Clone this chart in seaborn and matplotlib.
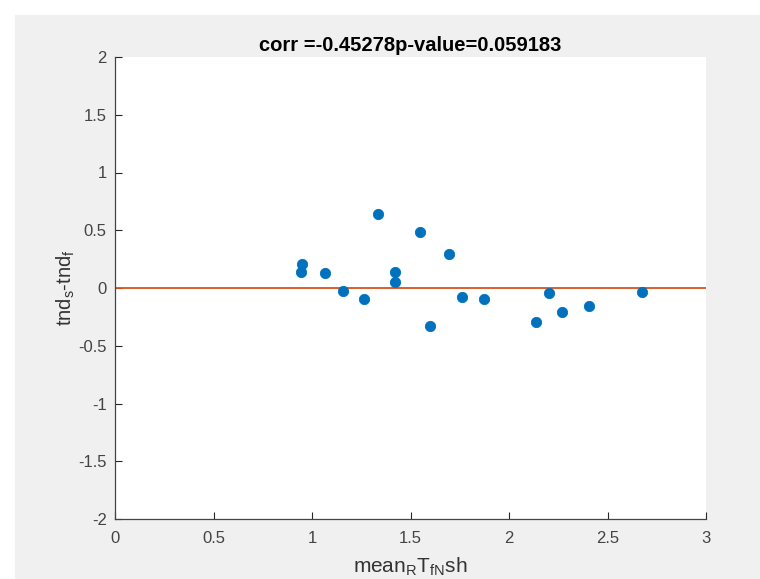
import matplotlib
matplotlib.use("Agg")
import matplotlib.pyplot as plt
import numpy as np
import pandas as pd
import seaborn as sns

# values
mean_rt = [0.944, 0.949, 1.066, 1.157, 1.264, 1.335, 1.421, 1.421, 1.548,
           1.599, 1.695, 1.761, 1.873, 2.137, 2.203, 2.269, 2.406, 2.675]
tnd_diff = [0.142, 0.208, 0.128, -0.024, -0.095, 0.640, 0.142, 0.056, 0.486,
            -0.329, 0.296, -0.075, -0.095, -0.296, -0.047, -0.212, -0.152, -0.032]
ref_x = [0, 3]
ref_y = [0, 0]

x_ticks = [0, 0.5, 1, 1.5, 2, 2.5, 3]
x_labels = ["0", "0.5", "1", "1.5", "2", "2.5", "3"]
y_ticks = [-2, -1.5, -1, -0.5, 0, 0.5, 1, 1.5, 2]
y_labels = ["-2", "-1.5", "-1", "-0.5", "0", "0.5", "1", "1.5", "2"]

df = pd.DataFrame({"x": mean_rt, "y": tnd_diff})

sns.set_style("ticks")
plt.rcParams["font.family"] = ["Liberation Sans", "DejaVu Sans"]
plt.rcParams["mathtext.default"] = "regular"

grey = "#262626"
fig = plt.figure(figsize=(7.6, 5.79), dpi=100, facecolor="white")
# grey MATLAB-like window area, white strip on top and left
fig.patches.append(plt.Rectangle((15 / 760, 0), 1, 1 - 15 / 579,
                                 transform=fig.transFigure, color="#f0f0f0", zorder=-10))

ax = fig.add_axes([115 / 760, 60 / 579, 591 / 760, 462 / 579])
ax.set_facecolor("white")

sns.lineplot(x=ref_x, y=ref_y, ax=ax, color="#D95319", linewidth=1.3, zorder=2)
sns.scatterplot(data=df, x="x", y="y", ax=ax, color="#0072BD", s=55,
                edgecolor="#0072BD", linewidth=0.6, zorder=3)

ax.set_xlim(0, 3)
ax.set_ylim(-2, 2)
ax.set_xticks(x_ticks)
ax.set_xticklabels(x_labels)
ax.set_yticks(y_ticks)
ax.set_yticklabels(y_labels)
ax.tick_params(direction="in", length=5, width=0.8, colors=grey,
               labelcolor="#444444", labelsize=12, pad=6)
ax.tick_params(axis="x", pad=8.5)

for side in ["top", "right"]:
    ax.spines[side].set_visible(False)
for side in ["left", "bottom"]:
    ax.spines[side].set_color("#444444")
    ax.spines[side].set_linewidth(0.9)

ax.set_title("corr =-0.45278p-value=0.059183", fontsize=14.5, fontweight="bold",
             color="black", pad=4)
ax.set_xlabel("mean$_{R}$T$_{fN}$sh", fontsize=15, color="#333333", labelpad=7)
ax.set_ylabel("tnd$_{s}$-tnd$_{f}$", fontsize=14.5, color="#333333", labelpad=1)

fig.savefig("out.png", dpi=100, facecolor=fig.get_facecolor())
